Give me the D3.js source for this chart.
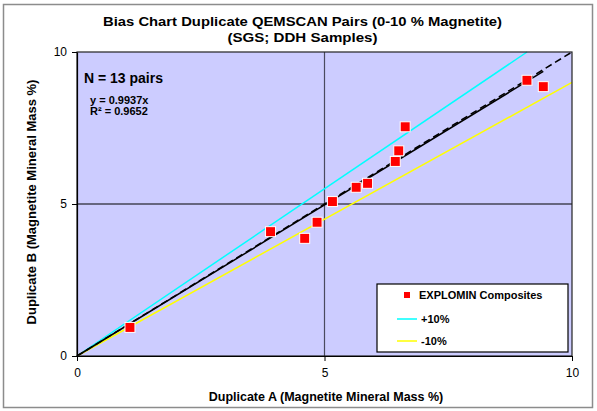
<!DOCTYPE html>
<html><head><meta charset="utf-8">
<script src="https://cdn.jsdelivr.net/npm/d3@7"></script>
<style>body{margin:0;background:#fff}svg{display:block}text{font-family:Arial,"Liberation Sans",sans-serif}</style>
</head><body><svg id="c" width="597" height="411"></svg>
<script>
const dupA = [1.07, 3.91, 4.60, 4.85, 5.16, 5.64, 5.87, 6.43, 6.50, 6.63, 9.09, 9.42];
const dupB = [0.94, 4.09, 3.87, 4.40, 5.08, 5.55, 5.68, 6.40, 6.75, 7.54, 9.07, 8.86];
const xTicks = [0, 5, 10];
const yTicks = [0, 5, 10];
const slope = 0.9937;
const titleLines = ["Bias Chart Duplicate QEMSCAN Pairs (0-10 % Magnetite)", "(SGS; DDH Samples)"];
const statLines = ["N = 13 pairs", "y = 0.9937x", "R\u00B2 = 0.9652"];
const legendItems = ["EXPLOMIN Composites", "+10%", "-10%"];

const svg = d3.select("#c");
const L = 77, R = 572, T = 52, B = 356;
const x = d3.scaleLinear().domain([0, 10]).range([L, R]);
const y = d3.scaleLinear().domain([0, 10]).range([B, T]);

svg.append("rect").attr("x", 3.5).attr("y", 4.5).attr("width", 589).attr("height", 403)
  .attr("fill", "#fff").attr("stroke", "#8c8c8c").attr("stroke-width", 1.5);

svg.append("rect").attr("x", L).attr("y", T).attr("width", R - L).attr("height", B - T)
  .attr("fill", "#ccccff");

// reference lines at 5
svg.append("line").attr("x1", x(5)).attr("x2", x(5)).attr("y1", T).attr("y2", B)
  .attr("stroke", "#4a4a5e").attr("stroke-width", 1.2);
svg.append("line").attr("x1", L).attr("x2", R).attr("y1", y(5)).attr("y2", y(5))
  .attr("stroke", "#000").attr("stroke-width", 1.2);

const line = d3.line().x(d => x(d[0])).y(d => y(d[1]));
// +10% and -10%
svg.append("path").datum([[0, 0], [10 / 1.1, 10]]).attr("d", line)
  .attr("stroke", "#00ffff").attr("stroke-width", 1.5).attr("fill", "none");
svg.append("path").datum([[0, 0], [10, 9]]).attr("d", line)
  .attr("stroke", "#ffff00").attr("stroke-width", 1.5).attr("fill", "none");
// trend
const xmax = d3.max(dupA);
svg.append("path").datum([[0, 0], [xmax, slope * xmax]]).attr("d", line)
  .attr("stroke", "#000").attr("stroke-width", 1.5).attr("fill", "none");
// 1:1 dashed
svg.append("path").datum([[0, 0], [10, 10]]).attr("d", line)
  .attr("stroke", "#000").attr("stroke-width", 1.5).attr("stroke-dasharray", "7,4").attr("fill", "none");

// points
const pts = dupA.map((a, i) => [a, dupB[i]]);
svg.append("g").selectAll("rect").data(pts).join("rect")
  .attr("x", d => x(d[0]) - 5).attr("y", d => y(d[1]) - 5)
  .attr("width", 10).attr("height", 10)
  .attr("fill", "#ff0000").attr("stroke", "#ffffff").attr("stroke-width", 1);

// plot border
svg.append("rect").attr("x", L).attr("y", T).attr("width", R - L).attr("height", B - T)
  .attr("fill", "none").attr("stroke", "#222").attr("stroke-width", 1.2);

// axes
const xAxis = d3.axisBottom(x).tickValues(xTicks).tickSize(5).tickSizeOuter(0).tickPadding(7);
const gx = svg.append("g").attr("transform", `translate(0,${B})`).call(xAxis);
gx.select(".domain").attr("stroke", "#000").attr("stroke-width", 1.2);
gx.selectAll(".tick line").attr("stroke", "#000");
gx.selectAll("text").attr("font-size", 12).attr("fill", "#000").attr("font-family", "Arial, 'Liberation Sans', sans-serif");
const yAxis = d3.axisLeft(y).tickValues(yTicks).tickSize(5).tickSizeOuter(0).tickPadding(5);
const gy = svg.append("g").attr("transform", `translate(${L},0)`).call(yAxis);
gy.select(".domain").attr("stroke", "#000").attr("stroke-width", 1.2);
gy.selectAll(".tick line").attr("stroke", "#000");
gy.selectAll("text").attr("font-size", 12).attr("fill", "#000").attr("font-family", "Arial, 'Liberation Sans', sans-serif");

// title
const titleW = [399, 150];
svg.append("g").selectAll("text").data(titleLines).join("text")
  .attr("x", 302.5).attr("y", (d, i) => 26 + i * 16).attr("text-anchor", "middle")
  .attr("font-size", 13.5).attr("font-weight", "bold")
  .attr("textLength", (d, i) => titleW[i]).attr("lengthAdjust", "spacingAndGlyphs").text(d => d);

// axis titles
svg.append("text").attr("x", 326).attr("y", 401).attr("text-anchor", "middle")
  .attr("font-size", 12.5).attr("font-weight", "bold").text("Duplicate A (Magnetite Mineral Mass %)");
svg.append("text").attr("transform", "translate(36,202) rotate(-90)").attr("text-anchor", "middle")
  .attr("font-size", 13).attr("font-weight", "bold").text("Duplicate B (Magnetite Mineral Mass %)");

// stats
svg.append("text").attr("x", 84).attr("y", 83).attr("font-size", 14).attr("font-weight", "bold").text(statLines[0]);
svg.append("text").attr("x", 90).attr("y", 104).attr("font-size", 11).attr("font-weight", "bold").text(statLines[1]);
svg.append("text").attr("x", 90).attr("y", 115).attr("font-size", 11).attr("font-weight", "bold").text(statLines[2]);

// legend
const lg = svg.append("g");
lg.append("rect").attr("x", 377).attr("y", 284).attr("width", 191).attr("height", 68)
  .attr("fill", "#fff").attr("stroke", "#000").attr("stroke-width", 1.2);
lg.append("rect").attr("x", 404).attr("y", 292).attr("width", 6).attr("height", 6).attr("fill", "#ff0000");
lg.append("line").attr("x1", 397).attr("x2", 417).attr("y1", 319).attr("y2", 319).attr("stroke", "#00ffff").attr("stroke-width", 1.5);
lg.append("line").attr("x1", 397).attr("x2", 417).attr("y1", 341).attr("y2", 341).attr("stroke", "#ffff00").attr("stroke-width", 1.5);
lg.selectAll("text.l").data(legendItems).join("text").attr("class", "l")
  .attr("x", (d, i) => i === 0 ? 419 : 421).attr("y", (d, i) => [299, 323, 345][i])
  .attr("font-size", 11).attr("font-weight", "bold").text(d => d);
</script></body></html>
